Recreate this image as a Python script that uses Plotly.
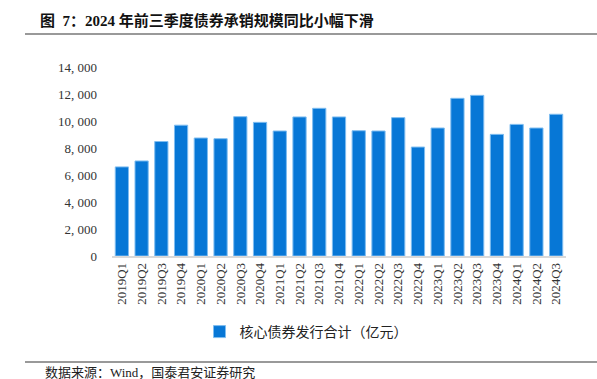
import plotly.graph_objects as go

quarters = ["2019Q1", "2019Q2", "2019Q3", "2019Q4",
            "2020Q1", "2020Q2", "2020Q3", "2020Q4",
            "2021Q1", "2021Q2", "2021Q3", "2021Q4",
            "2022Q1", "2022Q2", "2022Q3", "2022Q4",
            "2023Q1", "2023Q2", "2023Q3", "2023Q4",
            "2024Q1", "2024Q2", "2024Q3"]
issuance = [6600, 7040, 8480, 9690,
            8740, 8690, 10320, 9900,
            9260, 10300, 10940, 10300,
            9280, 9260, 10250, 8070,
            9480, 11680, 11900, 9010,
            9750, 9480, 10500]
series_name = "核心债券发行合计（亿元）"
ytick_vals = [0, 2000, 4000, 6000, 8000, 10000, 12000, 14000]
ytick_text = ["0", "2, 000", "4, 000", "6, 000", "8, 000", "10, 000", "12, 000", "14, 000"]
title_text = "图  7：2024 年前三季度债券承销规模同比小幅下滑"
source_text = "数据来源：Wind，国泰君安证券研究"

W, H = 597, 379
L, R, T, B = 112, 31, 67, 123
pw, ph = W - L - R, H - T - B


def px(x):
    return (x - L) / pw


def py(y):
    return (H - B - y) / ph


serif = "Times New Roman, Liberation Serif, Noto Sans CJK SC, serif"

fig = go.Figure()
fig.add_trace(go.Bar(
    x=quarters, y=issuance, name=series_name,
    marker=dict(color="#0777d6", line=dict(color="#7fbdf0", width=1)),
    showlegend=True,
))

fig.update_layout(
    width=W, height=H,
    margin=dict(l=L, r=R, t=T, b=B),
    paper_bgcolor="white", plot_bgcolor="white",
    bargap=0.33,
    font=dict(family=serif, color="#222222", size=12),
    showlegend=True,
    legend=dict(orientation="h", x=px(306), y=py(332), xanchor="center", yanchor="middle",
                font=dict(size=14, family="Noto Sans CJK SC, serif", color="#222222"),
                itemwidth=30, bgcolor="rgba(0,0,0,0)"),
    xaxis=dict(showline=True, linecolor="#d9d9d9", linewidth=1.5, ticks="",
               tickangle=-90, tickfont=dict(size=13, family=serif, color="#333333"),
               showgrid=False, zeroline=False),
    yaxis=dict(range=[0, 14000], tickvals=ytick_vals, ticktext=ytick_text,
               showgrid=False, zeroline=False, showline=False, ticks="",
               ticklabelstandoff=14,
               tickfont=dict(size=13, family=serif, color="#333333")),
)

fig.add_annotation(text=f"<b>{title_text}</b>", xref="paper", yref="paper",
                   x=px(38), y=py(21), xanchor="left", yanchor="middle", showarrow=False,
                   font=dict(size=15, family=serif, color="#111111"))
fig.add_annotation(text=source_text, xref="paper", yref="paper",
                   x=px(43), y=py(372), xanchor="left", yanchor="middle", showarrow=False,
                   font=dict(size=13, family=serif, color="#222222"))
fig.add_shape(type="line", xref="paper", yref="paper", x0=px(25), x1=px(597), y0=py(34), y1=py(34),
              line=dict(color="#777777", width=1.5))
fig.add_shape(type="line", xref="paper", yref="paper", x0=px(25), x1=px(597), y0=py(362), y1=py(362),
              line=dict(color="#777777", width=1.5))

fig.write_html("out.html", config={"displayModeBar": False},
               post_script="document.body.style.margin='0';document.body.style.overflow='hidden';")
